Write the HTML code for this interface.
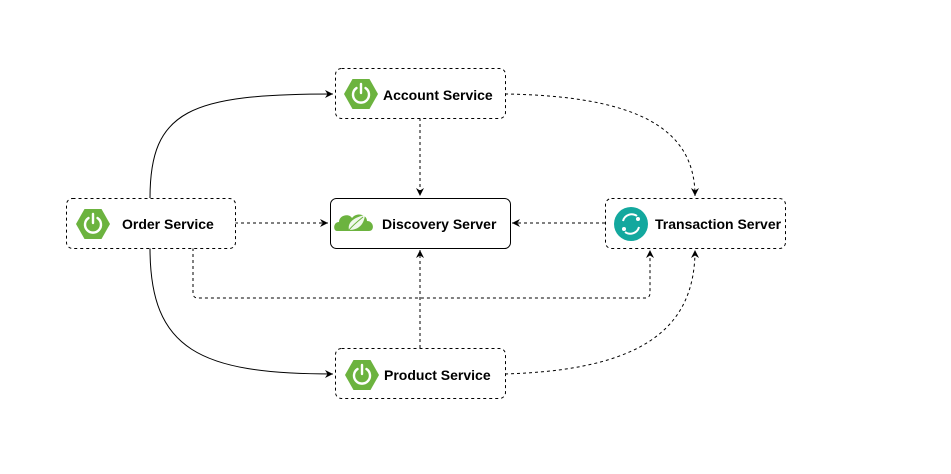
<!DOCTYPE html>
<html><head><meta charset="utf-8"><style>
html,body{margin:0;padding:0;background:#fff;}
svg{display:block;}
text{font-family:"Liberation Sans",Arial,sans-serif;font-weight:bold;font-size:14px;fill:#000;}
</style></head><body>
<svg width="951" height="474" viewBox="0 0 951 474" xmlns="http://www.w3.org/2000/svg">
<defs>
<marker id="a" markerWidth="10" markerHeight="10" refX="8" refY="5" orient="auto" markerUnits="userSpaceOnUse">
<path d="M0,1 L8,5 L0,9 L2.5,5 Z" fill="#000"/></marker>
<g id="hex">
<polygon points="-17,0 -8.5,-15 8.5,-15 17,0 8.5,15 -8.5,15" fill="#6cb33f"/>
<path d="M-4.5,-6 A8,8 0 1 0 4.5,-6" fill="none" stroke="#fff" stroke-width="2.4" stroke-linecap="round"/>
<line x1="0" y1="-10" x2="0" y2="-1" stroke="#fff" stroke-width="2.4" stroke-linecap="round"/>
</g>
</defs>
<g fill="none" stroke="#000" stroke-width="1">
<path d="M150,198 C150,110 190,94 333,94" marker-end="url(#a)"/>
<path d="M150,248 C150,350 200,374 333,374" marker-end="url(#a)"/>
<g stroke-dasharray="3,3">
<path d="M235,223 L328,223" marker-end="url(#a)"/>
<path d="M420,118 L420,196" marker-end="url(#a)"/>
<path d="M420,348 L420,250" marker-end="url(#a)"/>
<path d="M605,223 L512,223" marker-end="url(#a)"/>
<path d="M193,248 L193,293 Q193,298 198,298 L645,298 Q650,298 650,293 L650,250" marker-end="url(#a)"/>
<path d="M505,94 C640,96 695,130 695,196" marker-end="url(#a)"/>
<path d="M505,374 C640,370 695,330 695,250" marker-end="url(#a)"/>
</g>
</g>
<g fill="#fff" stroke="#000" stroke-width="1">
<rect x="66.5" y="198.5" width="169" height="50" rx="6" stroke-dasharray="3,3"/>
<rect x="330.5" y="198.5" width="180" height="50" rx="6"/>
<rect x="605.5" y="198.5" width="180" height="50" rx="6" stroke-dasharray="3,3"/>
<rect x="335.5" y="68.5" width="170" height="50" rx="6" stroke-dasharray="3,3"/>
<rect x="335.5" y="348.5" width="170" height="50" rx="6" stroke-dasharray="3,3"/>
</g>
<use href="#hex" x="93" y="224"/>
<use href="#hex" x="361" y="94"/>
<use href="#hex" x="362" y="375"/>
<g transform="translate(355,224)">
<path d="M-18,7 C-22,7 -22,-2 -16,-2 C-16,-9 -6,-11 -3,-6 C1,-12 12,-10 12,-3 C19,-3 20,7 14,7 Z" fill="#6cb33f"/>
<path d="M-6,6 C-8,-2 0,-7 10,-9 C9,0 4,6 -6,6 Z" fill="#fff" opacity="0.9"/>
<path d="M-6,6 C-2,1 3,-3 8,-7" stroke="#6cb33f" stroke-width="1" fill="none"/>
</g>
<g transform="translate(631,224)">
<circle r="17" fill="#13a89e"/>
<path d="M-8,-3 A9,9 0 0 1 6,-8" stroke="#fff" stroke-width="2" fill="none"/>
<path d="M8,3 A9,9 0 0 1 -6,8" stroke="#fff" stroke-width="2" fill="none"/>
<circle cx="7" cy="-5" r="2" fill="#fff"/><circle cx="-7" cy="5" r="2" fill="#fff"/>
</g>
<text x="122" y="229">Order Service</text>
<text x="382" y="229">Discovery Server</text>
<text x="655" y="229">Transaction Server</text>
<text x="383" y="100">Account Service</text>
<text x="384" y="380">Product Service</text>
</svg>
</body></html>
